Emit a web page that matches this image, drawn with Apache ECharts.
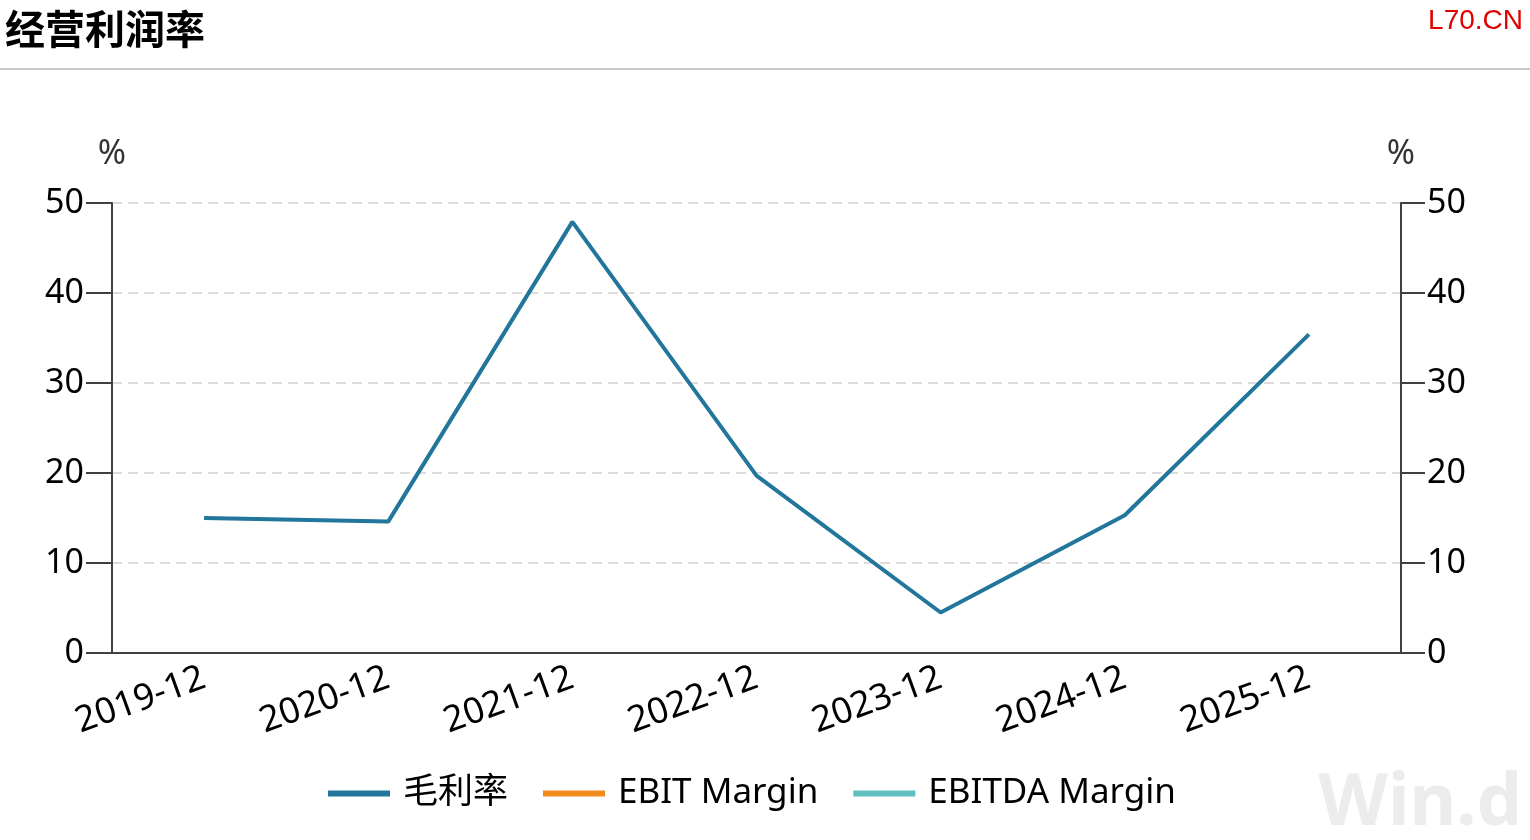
<!DOCTYPE html>
<html>
<head>
<meta charset="utf-8">
<script src="https://cdn.jsdelivr.net/npm/echarts@6/dist/echarts.min.js"></script>
<style>
    html, body { margin: 0; padding: 0; background: #fff; }
    #main { width: 1530px; height: 840px; }
</style>
</head>
<body>
<div id="main"></div>
<script>
var categories = ['2019-12', '2020-12', '2021-12', '2022-12', '2023-12', '2024-12', '2025-12'];
var grossMargin = [15.0, 14.6, 47.9, 19.7, 4.5, 15.3, 35.4];
var ebitMargin = [];
var ebitdaMargin = [];
var yTicks = { min: 0, max: 50, interval: 10 };

var fontLatin = '"Noto Sans", "Noto Sans CJK SC", sans-serif';
var axisColor = '#404040';

var myChart = echarts.init(document.getElementById('main'));
myChart.setOption({
    animation: false,
    title: [
        {
            text: '经营利润率',
            left: 0,
            top: 4,
            textStyle: {
                fontFamily: '"Noto Sans CJK SC", sans-serif',
                fontSize: 40,
                fontWeight: 'bold',
                color: '#000'
            }
        },
        {
            text: 'L70.CN',
            right: 2,
            top: 2,
            textStyle: {
                fontFamily: '"Liberation Sans", Arial, sans-serif',
                fontSize: 28,
                fontWeight: 'normal',
                color: '#e00000'
            }
        }
    ],
    graphic: [
        {
            type: 'rect',
            shape: { x: 0, y: 68, width: 1530, height: 2 },
            style: { fill: '#c8c8c8' }
        },
        {
            type: 'text',
            right: 8,
            top: 768,
            style: {
                text: 'Win.d',
                font: 'bold 72px "Noto Sans", sans-serif',
                fill: '#ececec'
            }
        }
    ],
    grid: {
        left: 112,
        right: 129,
        top: 203,
        bottom: 187,
        containLabel: false
    },
    legend: {
        bottom: 24,
        left: 323,
        itemWidth: 62,
        itemHeight: 6,
        itemGap: 35,
        icon: 'rect',
        textStyle: {
            fontFamily: fontLatin,
            fontSize: 35,
            color: '#000',
            padding: [0, 0, 0, 8]
        },
        data: ['毛利率', 'EBIT Margin', 'EBITDA Margin']
    },
    xAxis: {
        type: 'category',
        data: categories,
        boundaryGap: true,
        axisLine: { lineStyle: { color: axisColor, width: 2 } },
        axisTick: {
            alignWithLabel: true,
            length: 24,
            lineStyle: { color: axisColor, width: 2 }
        },
        axisLabel: {
            rotate: 20,
            margin: 24,
            interval: 0,
            fontFamily: fontLatin,
            fontSize: 36,
            color: '#000'
        },
        splitLine: { show: false }
    },
    yAxis: [
        {
            type: 'value',
            position: 'left',
            min: yTicks.min,
            max: yTicks.max,
            interval: yTicks.interval,
            name: '%',
            nameLocation: 'end',
            nameGap: 32,
            nameTextStyle: { fontFamily: fontLatin, fontSize: 34, color: '#333' },
            axisLine: { show: true, lineStyle: { color: axisColor, width: 2 } },
            axisTick: { show: true, length: 26, lineStyle: { color: axisColor, width: 2 } },
            axisLabel: { margin: 28, fontFamily: fontLatin, fontSize: 34, color: '#000' },
            splitLine: {
                show: true,
                lineStyle: { color: '#dcdcdc', width: 2, type: [10, 6] }
            }
        },
        {
            type: 'value',
            position: 'right',
            min: yTicks.min,
            max: yTicks.max,
            interval: yTicks.interval,
            name: '%',
            nameLocation: 'end',
            nameGap: 32,
            nameTextStyle: { fontFamily: fontLatin, fontSize: 34, color: '#333' },
            axisLine: { show: true, lineStyle: { color: axisColor, width: 2 } },
            axisTick: { show: true, length: 24, lineStyle: { color: axisColor, width: 2 } },
            axisLabel: { margin: 26, fontFamily: fontLatin, fontSize: 34, color: '#000' },
            splitLine: { show: false }
        }
    ],
    series: [
        {
            name: '毛利率',
            type: 'line',
            data: grossMargin,
            symbol: 'none',
            color: '#22769c',
            lineStyle: { color: '#22769c', width: 4 }
        },
        {
            name: 'EBIT Margin',
            type: 'line',
            data: ebitMargin,
            symbol: 'none',
            color: '#f28a1e',
            lineStyle: { color: '#f28a1e', width: 4 }
        },
        {
            name: 'EBITDA Margin',
            type: 'line',
            data: ebitdaMargin,
            symbol: 'none',
            color: '#5fbfbf',
            lineStyle: { color: '#5fbfbf', width: 4 }
        }
    ]
});
</script>
</body>
</html>
